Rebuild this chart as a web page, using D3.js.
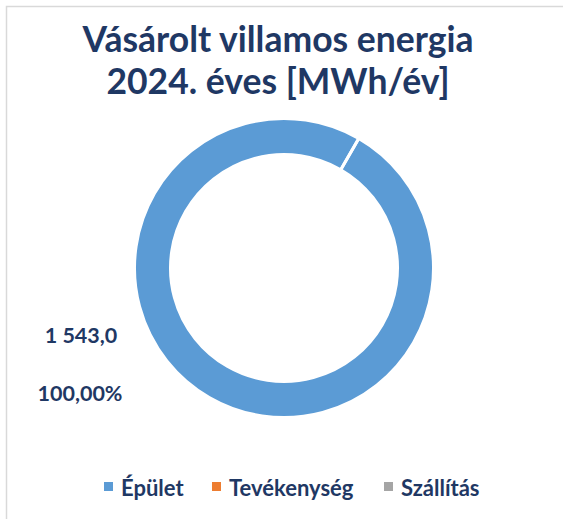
<!DOCTYPE html>
<html>
<head>
<meta charset="utf-8">
<script src="https://cdn.jsdelivr.net/npm/d3@7"></script>
<style>
  body { margin: 0; background: #fff; }
  svg { display: block; }
</style>
</head>
<body>
<div id="chart"></div>
<script>
// data
const categories = ['Épület', 'Tevékenység', 'Szállítás'];
const values = [1543.0, 0, 0];
const colors = ['#5B9BD5', '#ED7D31', '#A5A5A5'];
const titleLines = ['Vásárolt villamos energia', '2024. éves [MWh/év]'];

const width = 563, height = 519;
const textColor = '#1F3864';
const font = 'Lato, "Open Sans", sans-serif';

const cx = 284, cy = 268;
const outerR = 149.5, innerR = 113.5;
const startAngle = 30 * Math.PI / 180;

let svg = d3.select('#chart').append('svg')
  .attr('width', width)
  .attr('height', height);

// chart area border
svg.append('rect')
  .attr('x', 6.5).attr('y', 6.5)
  .attr('width', width).attr('height', height)
  .attr('fill', '#fff')
  .attr('stroke', '#D9D9D9')
  .attr('stroke-width', 1.5);

// title
svg.append('g')
  .selectAll('text')
  .data(titleLines)
  .join('text')
  .attr('x', 278)
  .attr('y', (d, i) => 52 + i * 42)
  .attr('text-anchor', 'middle')
  .attr('font-family', font)
  .attr('font-weight', 700)
  .attr('font-size', 35.5)
  .attr('fill', textColor)
  .text((d) => d);

// donut
let pie = d3.pie()
  .sort(null)
  .startAngle(startAngle)
  .endAngle(startAngle + 2 * Math.PI);

let arc = d3.arc().innerRadius(innerR).outerRadius(outerR);

let vis = svg.append('g')
  .attr('transform', 'translate(' + cx + ',' + cy + ')');

vis.selectAll('path')
  .data(pie(values))
  .join('path')
  .attr('d', arc)
  .attr('fill', (d, i) => colors[i])
  .attr('stroke', '#fff')
  .attr('stroke-width', 3)
  .attr('stroke-linejoin', 'round');

// data labels (value and percentage of first slice)
const total = d3.sum(values);
const fmtValue = (v) => d3.format(',.1f')(v).replace(/,/g, ' ').replace('.', ',');
const fmtPct = (v) => d3.format('.2f')(v * 100).replace('.', ',') + '%';

let labels = svg.append('g')
  .attr('font-family', font)
  .attr('font-weight', 700)
  .attr('font-size', 21.5)
  .attr('fill', textColor)
  .attr('text-anchor', 'middle');

labels.append('text')
  .attr('x', 81).attr('y', 343)
  .text(fmtValue(values[0]));

labels.append('text')
  .attr('x', 80).attr('y', 401)
  .text(fmtPct(values[0] / total));

// legend
const legendX = [104, 212, 384];
let legend = svg.append('g')
  .selectAll('g')
  .data(categories)
  .join('g')
  .attr('transform', (d, i) => 'translate(' + legendX[i] + ',482)');

legend.append('rect')
  .attr('width', 9).attr('height', 9)
  .attr('fill', (d, i) => colors[i]);

legend.append('text')
  .attr('x', 17).attr('y', 13.5)
  .attr('font-family', font)
  .attr('font-weight', 700)
  .attr('font-size', 22)
  .attr('fill', textColor)
  .text((d) => d);
</script>
</body>
</html>
